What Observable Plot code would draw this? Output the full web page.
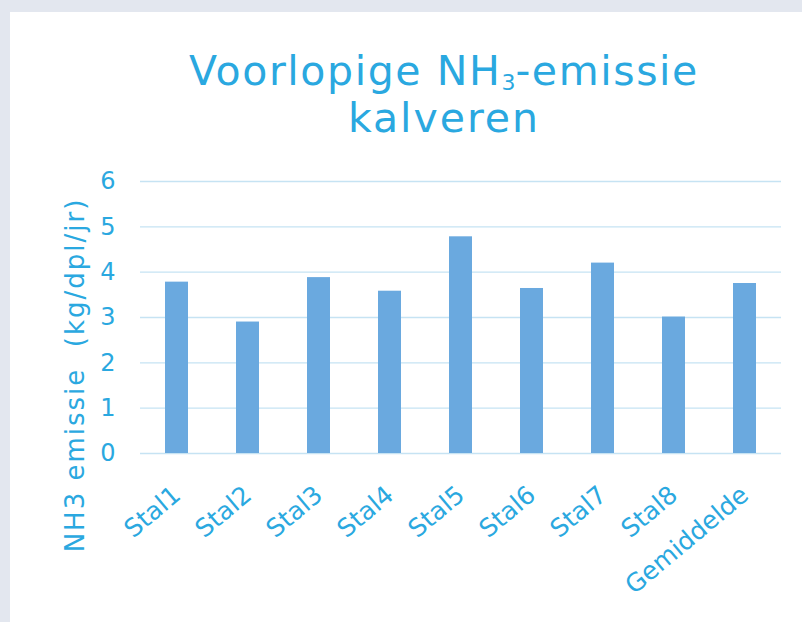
<!DOCTYPE html>
<html><head><meta charset="utf-8">
<script src="https://cdn.jsdelivr.net/npm/d3@7"></script>
<script src="https://cdn.jsdelivr.net/npm/@observablehq/plot@0.6"></script>
<style>
html,body{margin:0;padding:0}
body{background:#e3e7ef;width:802px;height:622px;overflow:hidden;position:relative;font-family:"DejaVu Sans",Verdana,sans-serif}
#panel{position:absolute;left:10px;top:12px;width:792px;height:610px;background:#fff}
.tl{position:absolute;left:0;width:868px;text-align:center;color:#2aa8e0;font-size:41px;line-height:41px;letter-spacing:1.6px;white-space:nowrap}
#t1{top:39px}
#t2{top:86px;letter-spacing:2px}
.tl sub{font-size:22px;line-height:0;vertical-align:-5px;letter-spacing:0}
#ylab{position:absolute;left:65px;top:363px;transform:translate(-50%,-50%) rotate(-90deg);color:#2aa8e0;font-size:26px;letter-spacing:2px;white-space:nowrap}
#chart{position:absolute;left:0;top:138px}
</style></head>
<body>
<div id="panel">
  <div class="tl" id="t1">Voorlopige NH<sub>3</sub>-emissie</div>
  <div class="tl" id="t2">kalveren</div>
  <div id="ylab">NH3 emissie&nbsp;&nbsp;(kg/dpl/jr)</div>
  <div id="chart"></div>
</div>
<script>
const categories = ["Stal1","Stal2","Stal3","Stal4","Stal5","Stal6","Stal7","Stal8","Gemiddelde"];
const values = [3.78, 2.90, 3.88, 3.58, 4.78, 3.64, 4.20, 3.01, 3.75];
const yTicks = [0, 1, 2, 3, 4, 5, 6];

const data = categories.map((c, i) => ({stal: c, emissie: values[i]}));
const textColor = "#2aa8e0";

const chart = Plot.plot({
  width: 792,
  height: 472,
  marginLeft: 130,
  marginRight: 21,
  marginTop: 31,
  marginBottom: 169,
  style: {fontFamily: "'DejaVu Sans', Verdana, sans-serif", background: "transparent", overflow: "visible"},
  x: {domain: categories, paddingInner: 0.67, paddingOuter: 0.335, label: null},
  y: {domain: [0, 6], label: null},
  marks: [
    Plot.gridY(yTicks, {stroke: "#c6e3f3", strokeOpacity: 1, strokeWidth: 1.4}),
    Plot.barY(data, {x: "stal", y: "emissie", fill: "#6aa9df"}),
    Plot.axisY(yTicks, {tickSize: 0, tickPadding: 25, fontSize: 24, fill: textColor, label: null}),
    Plot.axisX({tickSize: 0, tickPadding: 38, tickRotate: -40, fontSize: 25, fill: textColor, label: null, style: {letterSpacing: "0.8px"}})
  ]
});
document.getElementById("chart").appendChild(chart);
</script>
</body></html>
